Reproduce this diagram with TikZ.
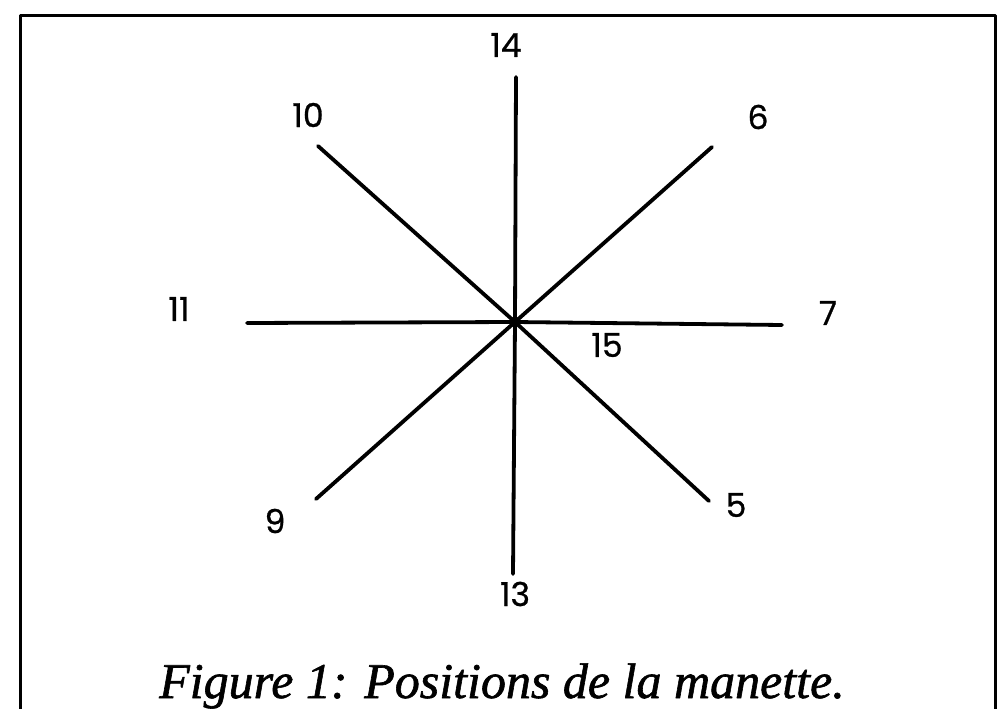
\documentclass[tikz,border=0pt]{standalone}
\usepackage{fontspec}
\setmainfont{Liberation Serif}
\newfontface\digitfont{Poppins}[FakeBold=0.8]
\newfontface\capfont{Liberation Serif Italic}[FakeBold=1.2]
\usetikzlibrary{positioning}

\tikzset{
  spoke/.style={line width=3.8pt, line cap=round},
  poslabel/.style={inner sep=0pt, anchor=center, font=\digitfont\fontsize{33}{40}\selectfont},
}

\begin{document}
\begin{tikzpicture}[x=1pt, y=-1pt, line join=round]

  %% ════ frame (bottom edge runs off the page) ════
  \draw[line width=3pt] (20,715) -- (20,16) -- (995,16) -- (995,715);

  %% ════ hub and stick ends ════
  \coordinate (hub) at (515,322);
  \coordinate (e14) at (516,77);
  \coordinate (e13) at (513,574);
  \coordinate (e11) at (247,323);
  \coordinate (e7)  at (782,325);
  \coordinate (e10) at (318,146);
  \coordinate (e5)  at (709,501);
  \coordinate (e6)  at (712,147);
  \coordinate (e9)  at (316,499);

  %% ════ spokes ════
  \draw[spoke] (e14) -- (hub) -- (e13);
  \draw[spoke] (e11) -- (hub) -- (e7);
  \draw[spoke] (e10) -- (hub) -- (e5);
  \draw[spoke] (e6)  -- (hub) -- (e9);
  \fill (hub) circle (5.5);

  %% ════ position numbers ════
  \node[poslabel] (l14) at (506,45)  {14};
  \node[poslabel] (l10) at (308,115) {10};
  \node[poslabel] (l6)  at (758,117) {6};
  \node[poslabel] (l11) at (179,309) {11};
  \node[poslabel] (l7)  at (828,313) {7};
  \node[poslabel] (l15) at (607,345) {15};
  \node[poslabel] (l9)  at (275,521) {9};
  \node[poslabel] (l5)  at (736,505) {5};
  \node[poslabel] (l13) at (515,594) {13};

  %% ════ caption ════
  \node[inner sep=0pt, anchor=base, font=\capfont\fontsize{50}{58}\selectfont] (cap) at (502,698)
    {Figure 1: Positions de la manette.};

  \pgfresetboundingbox
  \path[use as bounding box] (0,0) rectangle (1002,709);
\end{tikzpicture}
\end{document}
